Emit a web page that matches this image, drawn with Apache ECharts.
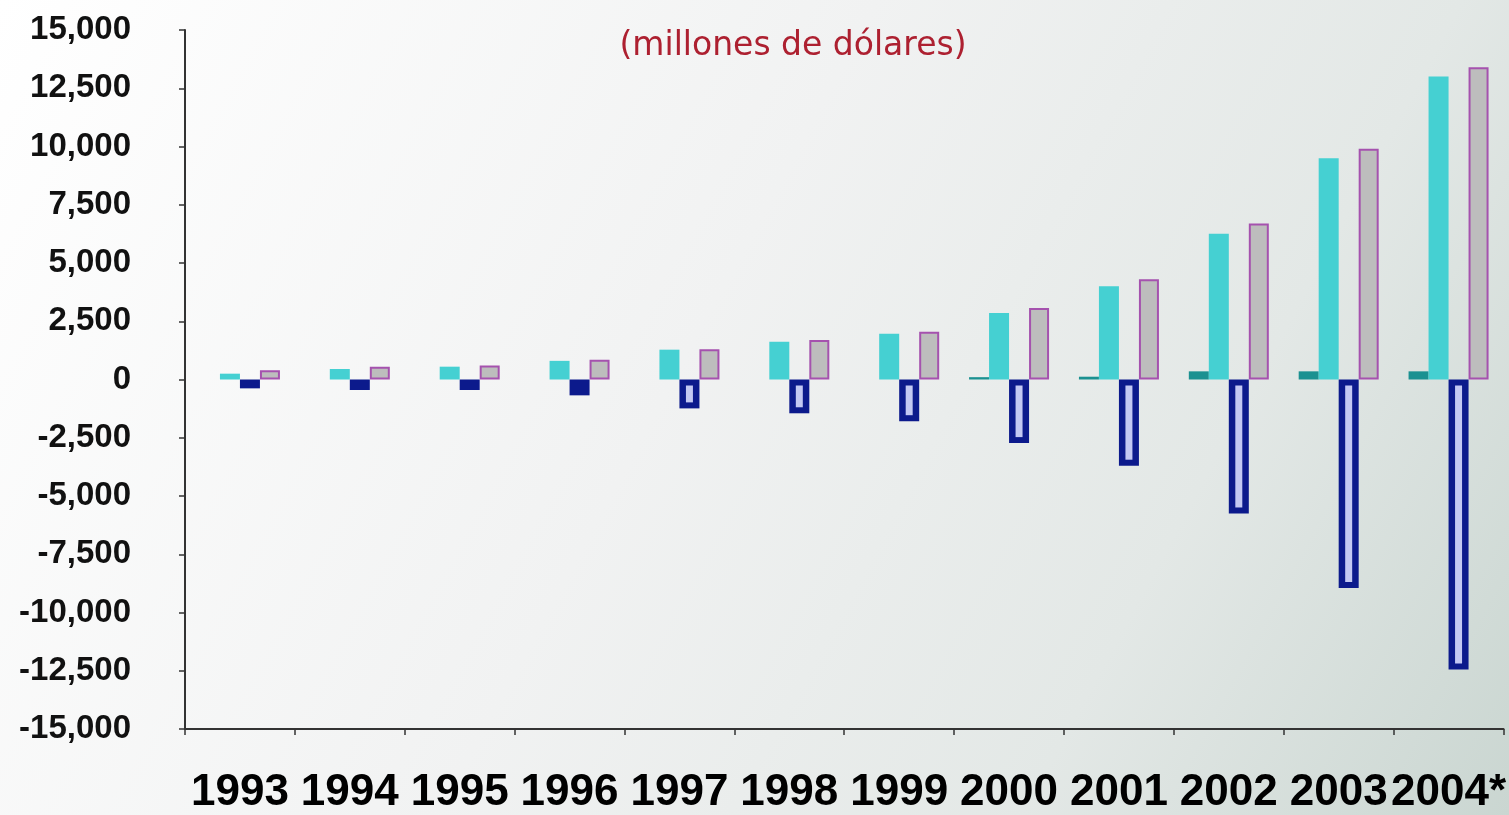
<!DOCTYPE html>
<html>
<head>
<meta charset="utf-8">
<script src="https://cdn.jsdelivr.net/npm/echarts@6/dist/echarts.min.js"></script>
<style>
  html, body { margin: 0; padding: 0; }
  #main { width: 1509px; height: 815px; }
</style>
</head>
<body>
<div id="main"></div>
<script>
var years = ['1993', '1994', '1995', '1996', '1997', '1998', '1999', '2000', '2001', '2002', '2003', '2004*'];
var yTicks = [-15000, 15000, 2500];

// four series per year
var tealVals = [0, 0, 0, 0, 0, 0, 0, 100, 120, 350, 350, 350];
var cyanVals = [250, 450, 550, 800, 1280, 1620, 1960, 2850, 4000, 6260, 9500, 13000];
var blueVals = [-380, -450, -450, -680, -1240, -1450, -1790, -2730, -3700, -5750, -8950, -12450];
var grayVals = [400, 550, 600, 850, 1300, 1700, 2050, 3070, 4300, 6700, 9900, 13400];

var BAR_W = 20;

var myChart = echarts.init(document.getElementById('main'));

myChart.setOption({
    backgroundColor: {
        type: 'linear', x: 0, y: 0, x2: 1, y2: 1,
        colorStops: [
            { offset: 0, color: '#ffffff' },
            { offset: 0.45, color: '#f1f2f2' },
            { offset: 0.75, color: '#e3e8e6' },
            { offset: 1, color: '#cad6d1' }
        ]
    },
    title: {
        text: '(millones de dólares)',
        left: 788,
        top: 25,
        textAlign: 'center',
        textStyle: {
            fontFamily: 'DejaVu Sans',
            fontWeight: 'normal',
            fontSize: 33,
            color: '#ad2030'
        }
    },
    grid: {
        left: 185,
        right: 4,
        top: 30,
        bottom: 81
    },
    xAxis: {
        type: 'category',
        data: years,
        position: 'bottom',
        axisLine: { onZero: false, lineStyle: { color: '#333', width: 2 } },
        axisTick: { show: true, length: 6, lineStyle: { color: '#333', width: 1.5 } },
        axisLabel: {
            interval: 0,
            margin: 42,
            fontFamily: 'Liberation Sans',
            fontWeight: 'bold',
            fontSize: 44,
            color: '#000'
        }
    },
    yAxis: {
        type: 'value',
        min: yTicks[0],
        max: yTicks[1],
        interval: yTicks[2],
        axisLine: { show: true, lineStyle: { color: '#333', width: 2 } },
        axisTick: { show: true, length: 6, lineStyle: { color: '#333', width: 1.5 } },
        splitLine: { show: false },
        axisLabel: {
            margin: 54,
            fontFamily: 'Liberation Sans',
            fontWeight: 'bold',
            fontSize: 33,
            color: '#111',
            formatter: function (v) {
                return v.toLocaleString('en-US');
            }
        }
    },
    series: [{
        name: 'teal',
        type: 'bar',
        barWidth: BAR_W,
        barGap: '0%',
        data: tealVals,
        itemStyle: { color: '#1b9191' }
    }, {
        name: 'cyan',
        type: 'bar',
        barWidth: BAR_W,
        barGap: '0%',
        data: cyanVals,
        itemStyle: { color: '#45d0d2' }
    }, {
        name: 'blue',
        type: 'bar',
        barWidth: BAR_W,
        barGap: '0%',
        data: blueVals,
        itemStyle: { color: '#0c1a8c' }
    }, {
        name: 'gray',
        type: 'bar',
        barWidth: BAR_W,
        barGap: '0%',
        data: grayVals,
        itemStyle: { color: '#bdbdbd', borderColor: '#a552ae', borderWidth: 2 }
    }, {
        // light stripe inside the blue bars
        name: 'blueInner',
        type: 'custom',
        z: 5,
        data: blueVals.map(function (v, i) { return [i, v]; }),
        encode: { x: 0, y: 1 },
        renderItem: function (params, api) {
            var base = api.coord([api.value(0), 0]);
            var end = api.coord([api.value(0), api.value(1)]);
            var h = end[1] - base[1];
            if (h < 16) return null;
            return {
                type: 'rect',
                shape: { x: base[0] + 6.5, y: base[1] + 6, width: 7, height: h - 12 },
                style: { fill: '#c3c8f3' }
            };
        }
    }]
});
</script>
</body>
</html>
